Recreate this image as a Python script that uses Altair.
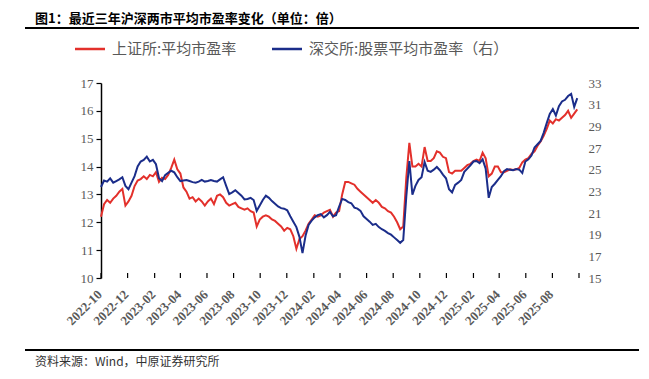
import altair as alt
import pandas as pd

# 上证所:平均市盈率 (left axis), weekly readings from 2022-10-01
sh_pe = [
    12.2, 12.65, 12.8, 12.7, 12.85, 12.95, 13.1, 13.2, 12.6, 12.75,
    12.95, 13.3, 13.5, 13.55, 13.65, 13.55, 13.7, 13.65, 13.8, 13.45,
    13.6, 13.55, 13.7, 13.95, 14.25, 13.9, 13.75, 13.25, 13.1, 12.85,
    12.9, 12.75, 12.85, 12.75, 12.6, 12.75, 12.85, 12.65, 12.95, 13.0,
    12.9, 12.7, 12.6, 12.65, 12.7, 12.55, 12.5, 12.45, 12.5, 12.4,
    12.35, 11.85, 12.1, 12.2, 12.25, 12.2, 12.1, 12.05, 11.95, 11.85,
    11.7, 11.8, 11.75, 11.5, 11.05, 11.4, 11.5, 11.7, 11.95, 12.1,
    12.25, 12.2, 12.25, 12.35, 12.4, 12.45, 12.2, 12.35, 12.4, 13.0,
    13.45, 13.45, 13.4, 13.35, 13.2, 13.1, 13.0, 12.9, 12.8, 12.7,
    12.8, 12.7, 12.55, 12.5, 12.4, 12.35, 12.2, 12.0, 11.75, 11.85,
    13.6, 14.85, 14.0, 14.0, 14.1, 14.0, 14.7, 14.2, 14.2, 14.3,
    14.55, 14.5, 14.35, 14.3, 13.8, 13.75, 13.85, 13.85, 13.85, 13.95,
    14.05, 14.1, 14.2, 14.25, 14.2, 14.5, 14.3, 13.65, 13.75, 14.0,
    14.0, 13.8, 13.8, 13.85, 13.9, 13.88, 13.9, 13.95, 14.15, 14.25,
    14.3, 14.45, 14.55, 14.75, 14.9, 15.1, 15.35, 15.65, 15.55, 15.7,
    15.65, 15.75, 15.85, 16.0, 15.75, 15.9, 16.05,
]

# 深交所:股票平均市盈率 (right axis)
sz_pe = [
    23.4, 24.0, 23.9, 24.2, 23.8, 23.95, 24.1, 24.3, 23.5, 23.2,
    23.8, 24.4, 25.3, 25.75, 25.9, 26.2, 25.75, 25.9, 25.5, 24.2,
    23.95, 24.5, 24.7, 24.9, 24.75, 24.3, 23.95, 24.0, 24.05, 23.95,
    23.85, 23.8, 23.9, 24.05, 23.9, 23.95, 24.05, 23.95, 23.9, 24.1,
    24.3, 23.5, 22.75, 22.9, 23.1, 22.85, 22.6, 22.25, 22.3, 22.4,
    22.2, 21.2, 21.7, 22.2, 22.6, 22.4, 22.1, 21.85, 21.6, 21.45,
    21.4, 21.25, 20.7, 20.2, 19.7, 18.8, 17.3, 18.9, 19.9, 20.3,
    20.6, 20.8, 20.9, 20.6, 20.8, 21.1, 20.7, 20.8, 21.6, 22.3,
    22.2, 22.0, 21.9, 21.5, 21.4, 21.2, 20.7, 20.45, 20.2, 19.9,
    20.0, 19.7, 19.5, 19.35, 19.15, 19.0, 18.75, 18.5, 18.25, 18.5,
    22.5, 25.8, 22.7, 23.5, 24.05, 24.3, 25.7, 24.9, 24.8, 25.0,
    25.25, 24.95, 24.55, 24.2, 23.2, 22.9, 23.6, 23.8, 24.05, 24.8,
    25.1, 25.4, 25.75, 25.8, 25.6, 25.95, 25.1, 22.4, 23.4, 23.7,
    24.05, 24.4, 24.85, 25.05, 25.0, 24.95, 25.05, 25.0, 24.7, 25.75,
    25.95, 26.3, 27.05, 27.35, 27.65, 28.4, 29.3, 30.15, 30.6, 30.0,
    30.85, 31.3, 31.45, 31.8, 32.0, 30.8, 31.6,
]

tick_months = [
    "2022-10", "2022-12", "2023-02", "2023-04", "2023-06", "2023-08",
    "2023-10", "2023-12", "2024-02", "2024-04", "2024-06", "2024-08",
    "2024-10", "2024-12", "2025-02", "2025-04", "2025-06", "2025-08",
    "2025-10",
]
left_ticks = [10, 11, 12, 13, 14, 15, 16, 17]
right_ticks = [15, 17, 19, 21, 23, 25, 27, 29, 31, 33]

title_text = "图1：最近三年沪深两市平均市盈率变化（单位：倍）"
legend_sh = "上证所:平均市盈率"
legend_sz = "深交所:股票平均市盈率（右）"
source_text = "资料来源：Wind，中原证券研究所"

RED = "#E3302B"
BLUE = "#1B2D8A"
GRAY = "#595959"

start = pd.Timestamp("2022-10-01")
dates = pd.date_range(start, periods=len(sh_pe), freq="7D")
# position along the time axis, in months since 2022-10
df = pd.DataFrame({
    "t": [(d - start).days / 30.4375 for d in dates],
    "sh": sh_pe,
    "sz": sz_pe,
})
ticks_df = pd.DataFrame({
    "t": [(pd.Timestamp(m + "-01") - start).days / 30.4375 for m in tick_months],
    "label": tick_months,
})
ticks_lab = ticks_df.iloc[:-1]

xmax = float(ticks_df["t"].iloc[-1])
xscale = alt.Scale(domain=[0, xmax], nice=False, zero=False)
xaxis = alt.Axis(
    labels=False, ticks=False, grid=False, title=None,
    domainColor="black", domainWidth=1.5,
)

base = alt.Chart(df)

red = base.mark_line(color=RED, strokeWidth=2).encode(
    x=alt.X("t:Q", scale=xscale, axis=xaxis),
    y=alt.Y(
        "sh:Q",
        scale=alt.Scale(domain=[10, 17], nice=False, zero=False),
        axis=alt.Axis(
            orient="left", values=left_ticks, grid=False, title=None,
            domainColor="black", domainWidth=1.5, tickColor="black",
            tickSize=5, tickWidth=1.2, labelPadding=3,
            labelFont="Liberation Serif", labelFontSize=13, labelColor=GRAY,
        ),
    ),
)

blue = base.mark_line(color=BLUE, strokeWidth=2).encode(
    x=alt.X("t:Q", scale=xscale, axis=None),
    y=alt.Y(
        "sz:Q",
        scale=alt.Scale(domain=[15, 33], nice=False, zero=False),
        axis=alt.Axis(
            orient="right", values=right_ticks, grid=False, title=None,
            domain=False, ticks=False, labelPadding=9,
            labelFont="Liberation Serif", labelFontSize=13, labelColor=GRAY,
        ),
    ),
)

xticks = alt.Chart(ticks_df).mark_rule(color="black", strokeWidth=1.2).encode(
    x=alt.X("t:Q", scale=xscale, axis=None),
    y=alt.value(190),
    y2=alt.value(195),
)

xlabels = alt.Chart(ticks_lab).mark_text(
    angle=315, align="right", baseline="middle", font="Liberation Serif",
    fontWeight="bold", fontSize=13, color=GRAY, dx=-1.5,
).encode(
    x=alt.X("t:Q", scale=xscale, axis=None),
    y=alt.value(208.5),
    text="label:N",
)

one = pd.DataFrame({"k": [0]})
ann = alt.Chart(one)

title = ann.mark_text(
    text=title_text, align="left", baseline="middle", font="Noto Sans CJK SC",
    fontSize=13, fontWeight="bold", color="black",
).encode(x=alt.value(-66), y=alt.value(-64))

title_rule = ann.mark_rule(color="black", strokeWidth=2.2).encode(
    x=alt.value(-76), x2=alt.value(548), y=alt.value(-55)
)

leg_red = ann.mark_rule(color=RED, strokeWidth=2.5).encode(
    x=alt.value(-26), x2=alt.value(4), y=alt.value(-34)
)
leg_red_t = ann.mark_text(
    text=legend_sh, align="left", baseline="middle", font="Noto Sans CJK SC",
    fontSize=15, color=GRAY,
).encode(x=alt.value(11), y=alt.value(-34))

leg_blue = ann.mark_rule(color=BLUE, strokeWidth=2.5).encode(
    x=alt.value(171), x2=alt.value(201), y=alt.value(-34)
)
leg_blue_t = ann.mark_text(
    text=legend_sz, align="left", baseline="middle", font="Noto Sans CJK SC",
    fontSize=15, color=GRAY,
).encode(x=alt.value(208), y=alt.value(-34))

foot_rule = ann.mark_rule(color="black", strokeWidth=2.2).encode(
    x=alt.value(-76), x2=alt.value(548), y=alt.value(267)
)
foot_t = ann.mark_text(
    text=source_text, align="left", baseline="middle", font="Noto Sans CJK SC",
    fontSize=12, color="#333333",
).encode(x=alt.value(-66), y=alt.value(279))

chart = (
    alt.layer(red, blue, xticks, xlabels, title, title_rule, leg_red, leg_red_t,
              leg_blue, leg_blue_t, foot_rule, foot_t)
    .resolve_scale(y="independent")
    .properties(
        width=478,
        height=195,
        padding={"left": 93, "top": 75, "right": 60, "bottom": 93},
        autosize=alt.AutoSizeParams(type="none"),
        background="white",
    )
    .configure_view(stroke=None)
)

chart.save("out.html", embed_options={"renderer": "svg", "actions": False})
